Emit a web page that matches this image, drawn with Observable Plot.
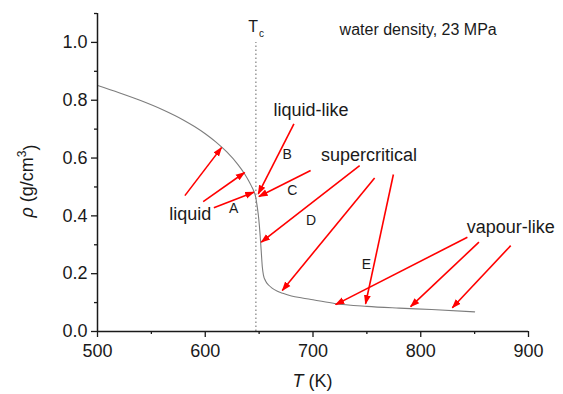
<!DOCTYPE html>
<html>
<head>
<meta charset="utf-8">
<script src="https://cdn.jsdelivr.net/npm/d3@7"></script>
<script src="https://cdn.jsdelivr.net/npm/@observablehq/plot@0.6"></script>
<style>
  body { margin: 0; background: #fff; }
  #chart { width: 563px; height: 394px; }
</style>
</head>
<body>
<div id="chart"></div>
<script>
// Density of water along the 23 MPa isobar (T in K, rho in g/cm^3)
const temperatureK = [500, 520, 540, 560, 580, 590, 600, 610, 620, 630, 636, 640, 643, 645, 646.5, 648, 649.5, 651, 652, 653, 654, 656, 659, 662, 667, 672, 680, 690, 700, 720, 750, 780, 810, 850];
const densityGcm3 = [0.851, 0.826, 0.799, 0.768, 0.731, 0.709, 0.684, 0.655, 0.621, 0.579, 0.548, 0.523, 0.502, 0.486, 0.470, 0.438, 0.395, 0.330, 0.275, 0.222, 0.195, 0.175, 0.160, 0.150, 0.139, 0.132, 0.123, 0.116, 0.110, 0.097, 0.087, 0.081, 0.076, 0.068];

// Critical temperature of water
const criticalT = 647;

// Region labels and their anchor points
const regionNames = ["liquid", "liquid-like", "supercritical", "vapour-like"];
const regionT = [586.1, 698.2, 751.9, 883.5];
const regionRho = [0.404, 0.767, 0.608, 0.361];

// Point letters along the isobar
const pointNames = ["A", "B", "C", "D", "E"];
const pointT = [626.3, 676.1, 680.8, 698.2, 749.6];
const pointRho = [0.427, 0.613, 0.486, 0.385, 0.232];

// Pointer arrows: start (label side) -> tip (on the curve)
const arrowFromT = [581.1, 598.1, 608.0, 682.3, 697.8, 743.3, 757.2, 774.6, 843.3, 854.0, 883.5];
const arrowFromRho = [0.470, 0.4495, 0.428, 0.718, 0.557, 0.574, 0.531, 0.543, 0.326, 0.309, 0.297];
const arrowToT = [615.1, 636.5, 645.1, 649.2, 649.8, 652.0, 671.5, 748.8, 721.0, 790.6, 829.3];
const arrowToRho = [0.636, 0.550, 0.482, 0.476, 0.467, 0.309, 0.142, 0.096, 0.093, 0.086, 0.082];

// Axis ticks
const majorTicksT = [500, 600, 700, 800, 900];
const minorTicksT = [550, 650, 750, 850];
const majorTicksRho = [0, 0.2, 0.4, 0.6, 0.8, 1.0];
const minorTicksRho = [0.1, 0.3, 0.5, 0.7, 0.9, 1.1];

const titleText = "water density, 23 MPa";

const curve = temperatureK.map((T, i) => ({T, rho: densityGcm3[i]}));
const regions = regionNames.map((name, i) => ({name, T: regionT[i], rho: regionRho[i]}));
const points = pointNames.map((name, i) => ({name, T: pointT[i], rho: pointRho[i]}));
const arrows = arrowFromT.map((_, i) => ({
  x1: arrowFromT[i], y1: arrowFromRho[i], x2: arrowToT[i], y2: arrowToRho[i]
}));

// Solid triangular arrowhead
const solidHead = (color) => {
  const m = d3.create("svg:marker")
    .attr("viewBox", "0 -5 10 10")
    .attr("refX", 9)
    .attr("refY", 0)
    .attr("markerWidth", 6)
    .attr("markerHeight", 6)
    .attr("orient", "auto")
    .attr("fill", color)
    .attr("stroke", "none");
  m.append("path").attr("d", "M0,-3.6L10,0L0,3.6Z");
  return m.node();
};

const ink = "#1a1a1a";
const font = "'Liberation Sans', Arial, Helvetica, sans-serif";

const chart = Plot.plot({
  width: 563,
  height: 394,
  marginLeft: 97,
  marginRight: 35,
  marginTop: 13,
  marginBottom: 63,
  style: {fontFamily: font, fontSize: "18px", background: "#fff", color: ink},
  x: {domain: [500, 900]},
  y: {domain: [0, 1.1]},
  marks: [
    Plot.ruleX([criticalT], {y1: 0, y2: 1.0, stroke: "#808080", strokeWidth: 1.2, strokeDasharray: "1.4,2.6"}),
    Plot.line(curve, {x: "T", y: "rho", stroke: "#7d7d7d", strokeWidth: 1.1, curve: "monotone-x"}),
    Plot.link(arrows, {x1: "x1", y1: "y1", x2: "x2", y2: "y2", stroke: "#ff0000", strokeWidth: 1.6, markerEnd: solidHead}),
    Plot.text(regions, {x: "T", y: "rho", text: "name", fontSize: 18, fill: ink}),
    Plot.text(points, {x: "T", y: "rho", text: "name", fontSize: 14, fill: ink}),
    Plot.text([titleText], {x: 797.6, y: 1.044, text: (d) => d, fontSize: 16, fill: ink}),
    Plot.text(["T"], {x: criticalT, y: 1.053, dx: -2.8, text: (d) => d, fontSize: 16, fill: ink}),
    Plot.text(["c"], {x: criticalT, y: 1.029, dx: 5.5, text: (d) => d, fontSize: 10, fill: ink}),
    Plot.axisX(majorTicksT, {tickSize: 6, tickPadding: 7, strokeWidth: 1.3, tickFormat: "d", label: null}),
    Plot.axisX(minorTicksT, {tickSize: 3, strokeWidth: 1.3, fill: "none", tickFormat: () => "", label: null}),
    Plot.axisY(majorTicksRho, {tickSize: 6, tickPadding: 4, strokeWidth: 1.3, tickFormat: d3.format(".1f"), label: null}),
    Plot.axisY(minorTicksRho, {tickSize: 3, strokeWidth: 1.3, fill: "none", tickFormat: () => "", label: null}),
    Plot.ruleY([0], {stroke: ink, strokeWidth: 1.5}),
    Plot.ruleX([500], {stroke: ink, strokeWidth: 1.5})
  ]
});

// Axis titles with italic symbols and a superscript
const svg = d3.select(chart);
const xTitle = svg.append("text")
  .attr("x", 312.5).attr("y", 387)
  .attr("text-anchor", "middle")
  .attr("fill", ink)
  .style("font-size", "18px");
xTitle.append("tspan").attr("font-style", "italic").text("T");
xTitle.append("tspan").text(" (K)");

const yTitle = svg.append("text")
  .attr("transform", "translate(33,181) rotate(-90)")
  .attr("text-anchor", "middle")
  .attr("fill", ink)
  .style("font-size", "18px");
yTitle.append("tspan").attr("font-style", "italic").text("ρ");
yTitle.append("tspan").text(" (g/cm");
yTitle.append("tspan").attr("dy", "-0.55em").style("font-size", "12px").text("3");
yTitle.append("tspan").attr("dy", "0.55em").text(")");

document.getElementById("chart").appendChild(chart);
</script>
</body>
</html>
